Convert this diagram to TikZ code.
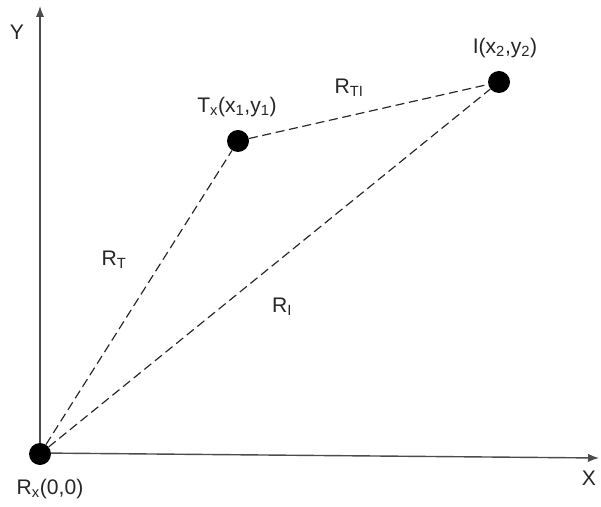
\documentclass[tikz,border=0pt]{standalone}
\usepackage{fontspec}
\setmainfont{Liberation Sans}
\usetikzlibrary{arrows.meta}
\tikzset{
    dot/.style={fill=black, circle, inner sep=0pt, minimum size=0.66cm},
    link/.style={black!85, line width=1pt, dash pattern=on 0.27cm off 0.14cm},
    axis/.style={black!70, line width=1.2pt, -{Latex[length=0.33cm, width=0.25cm]}},
    lbl/.style={font=\fontsize{18}{21}\selectfont, text=black!85, inner sep=0pt}
}
\begin{document}
\begin{tikzpicture}[x=0.03cm, y=0.03cm]
    \useasboundingbox (0,0) rectangle (601,506);
    % Draw the axes
    \coordinate (o) at (40,53);
    \coordinate (ytop) at (40,500);
    \coordinate (xend) at (599,48);
    \draw[axis] (o) -- (ytop);
    \draw[axis] (o) -- (xend);
    \node[lbl] (ylab) at (17,474) {Y};
    \node[lbl] (xlab) at (589,28) {X};

    % Draw the points
    \node[dot] (rx) at (40,52) {};
    \node[dot] (tx) at (238,365) {};
    \node[dot] (i) at (499,424) {};

    % Draw the distances
    \draw[link] (rx) -- (tx);
    \draw[link] (rx) -- (i);
    \draw[link] (tx) -- (i);

    % Label the points
    \node[lbl] (rxlab) at (50,17) {R\textsubscript{x}(0,0)};
    \node[lbl] (txlab) at (237,399) {T\textsubscript{x}(x\textsubscript{1},y\textsubscript{1})};
    \node[lbl] (ilab) at (505,458) {I(x\textsubscript{2},y\textsubscript{2})};
    % Label the distances
    \node[lbl] (rtilab) at (349,418) {R\textsubscript{TI}};
    \node[lbl] (rtlab) at (114,246) {R\textsubscript{T}};
    \node[lbl] (rilab) at (282,199) {R\textsubscript{I}};
\end{tikzpicture}
\end{document}
